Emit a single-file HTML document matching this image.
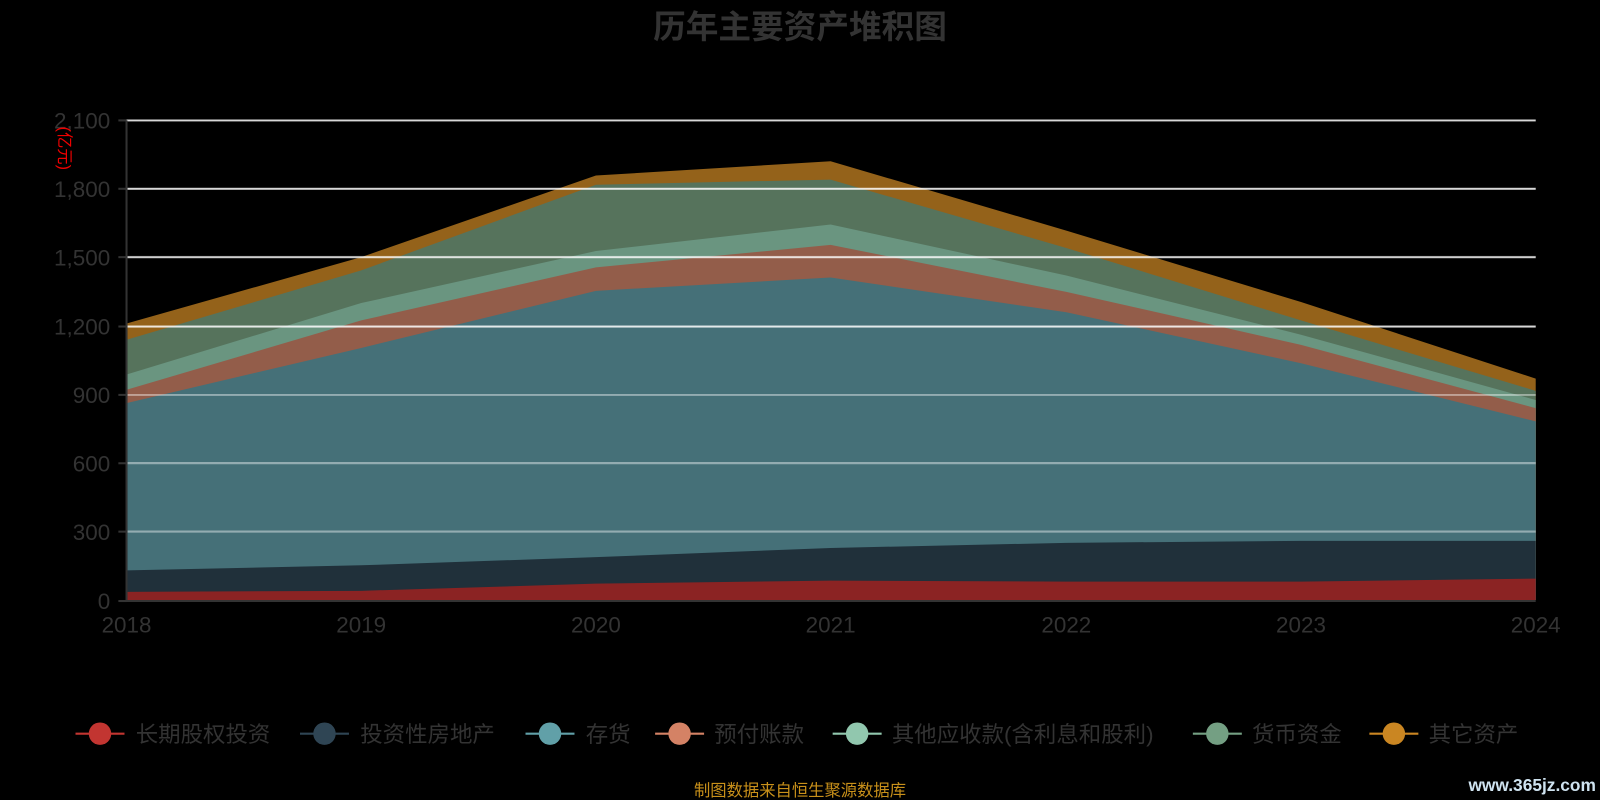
<!DOCTYPE html>
<html><head><meta charset="utf-8"><style>
body{margin:0;background:#000;width:1600px;height:800px;overflow:hidden}
text{font-family:"Liberation Sans","Noto Sans CJK SC",sans-serif}
</style></head><body>
<svg width="1600" height="800" viewBox="0 0 1568 784" preserveAspectRatio="none" style="display:block">
<rect width="1568" height="784" fill="#000"/>
<text x="784" y="37" text-anchor="middle" font-size="32" font-weight="bold" fill="#333">历年主要资产堆积图</text>
<g>
<polygon fill="#94621a" points="124,588 124,317 354,252 584,172 814,158 1045,226 1275,296 1505,371 1505,588"/>
<polygon fill="#56735c" points="124,588 124,333 354,265 584,181 814,176 1045,243 1275,314 1505,383 1505,588"/>
<polygon fill="#6a9580" points="124,588 124,367 354,297 584,246 814,220 1045,270 1275,328 1505,392 1505,588"/>
<polygon fill="#935d4a" points="124,588 124,382 354,314 584,262 814,240 1045,286 1275,338 1505,400 1505,588"/>
<polygon fill="#457078" points="124,588 124,395 354,341 584,285 814,272 1045,306 1275,356 1505,413 1505,588"/>
<polygon fill="#20303a" points="124,588 124,559 354,554 584,546 814,537 1045,532 1275,530 1505,530 1505,588"/>
<polygon fill="#8b2323" points="124,588 124,580 354,579 584,572 814,569 1045,570 1275,570 1505,567 1505,588"/>
</g>
<g stroke="#fff" stroke-width="2" opacity="0.85">
<line x1="124" y1="118" x2="1505" y2="118"/><line x1="124" y1="185" x2="1505" y2="185"/>
<line x1="124" y1="252" x2="1505" y2="252"/><line x1="124" y1="320" x2="1505" y2="320"/>
<line x1="124" y1="387" x2="1505" y2="387" opacity="0.5"/><line x1="124" y1="454" x2="1505" y2="454" opacity="0.5"/>
<line x1="124" y1="521" x2="1505" y2="521" opacity="0.5"/>
</g>
<g stroke="#333" stroke-width="2">
<line x1="124" y1="118" x2="124" y2="589"/><line x1="123" y1="589" x2="1505" y2="589"/>
<line x1="116" y1="118" x2="124" y2="118"/><line x1="116" y1="185" x2="124" y2="185"/><line x1="116" y1="252" x2="124" y2="252"/><line x1="116" y1="320" x2="124" y2="320"/><line x1="116" y1="387" x2="124" y2="387"/><line x1="116" y1="454" x2="124" y2="454"/><line x1="116" y1="521" x2="124" y2="521"/><line x1="116" y1="589" x2="124" y2="589"/>
</g>
<g font-size="22" fill="#333" text-anchor="end">
<text x="108" y="126">2,100</text><text x="108" y="193">1,800</text><text x="108" y="260">1,500</text><text x="108" y="328">1,200</text><text x="108" y="395">900</text><text x="108" y="462">600</text><text x="108" y="529">300</text><text x="108" y="597">0</text>
</g>
<text transform="translate(58,124) rotate(90)" font-size="16" fill="#e00">(亿元)</text>
<g font-size="22" fill="#333" text-anchor="middle">
<text x="124" y="620">2018</text><text x="354" y="620">2019</text><text x="584" y="620">2020</text><text x="814" y="620">2021</text><text x="1045" y="620">2022</text><text x="1275" y="620">2023</text><text x="1505" y="620">2024</text>
</g>
<g font-size="22" fill="#333">
<line x1="74" y1="719" x2="122" y2="719" stroke="#c23531" stroke-width="2"/><circle cx="98" cy="719" r="11" fill="#c23531"/><text x="133" y="727">长期股权投资</text>
<line x1="294" y1="719" x2="342" y2="719" stroke="#2f4554" stroke-width="2"/><circle cx="318" cy="719" r="11" fill="#2f4554"/><text x="353" y="727">投资性房地产</text>
<line x1="515" y1="719" x2="563" y2="719" stroke="#61a0a8" stroke-width="2"/><circle cx="539" cy="719" r="11" fill="#61a0a8"/><text x="574" y="727">存货</text>
<line x1="642" y1="719" x2="690" y2="719" stroke="#d48265" stroke-width="2"/><circle cx="666" cy="719" r="11" fill="#d48265"/><text x="700" y="727">预付账款</text>
<line x1="816" y1="719" x2="864" y2="719" stroke="#91c7ae" stroke-width="2"/><circle cx="840" cy="719" r="11" fill="#91c7ae"/><text x="874" y="727">其他应收款(含利息和股利)</text>
<line x1="1169" y1="719" x2="1217" y2="719" stroke="#749f83" stroke-width="2"/><circle cx="1193" cy="719" r="11" fill="#749f83"/><text x="1227" y="727">货币资金</text>
<line x1="1342" y1="719" x2="1390" y2="719" stroke="#ca8622" stroke-width="2"/><circle cx="1366" cy="719" r="11" fill="#ca8622"/><text x="1400" y="727">其它资产</text>
</g>
<text x="784" y="780" text-anchor="middle" font-size="16" fill="#c8901a">制图数据来自恒生聚源数据库</text>
<text x="1564" y="775" text-anchor="end" font-size="17" font-weight="bold" fill="#cfe3f0">www.365jz.com</text>
</svg>
</body></html>
